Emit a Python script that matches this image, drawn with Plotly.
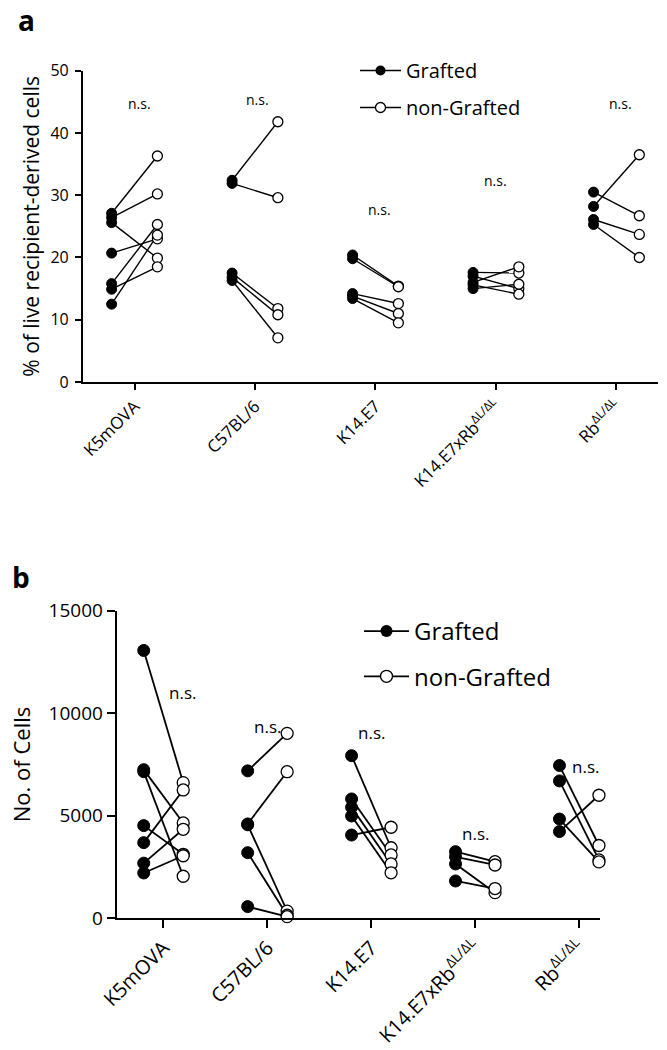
import plotly.graph_objects as go

# Mouse strains on the x axis
categories = ["K5mOVA", "C57BL/6", "K14.E7",
              "K14.E7xRb<sup>ΔL/ΔL</sup>", "Rb<sup>ΔL/ΔL</sup>"]

# Panel a: % of live recipient-derived cells (paired per mouse)
pct_grafted = [
    [27.1, 26.4, 25.6, 20.7, 15.8, 14.9, 12.5],
    [32.4, 31.9, 17.5, 16.8, 16.3],
    [20.4, 19.8, 14.2, 13.8, 13.4],
    [17.6, 17.0, 16.0, 15.6, 15.0],
    [30.5, 28.2, 26.1, 25.3],
]
pct_nongrafted = [
    [36.3, 30.2, 19.9, 23.0, 25.3, 18.5, 23.6],
    [41.8, 29.6, 11.8, 10.8, 7.1],
    [15.4, 15.3, 12.6, 11.0, 9.5],
    [17.5, 15.0, 18.5, 14.1, 15.7],
    [26.7, 36.5, 23.7, 20.0],
]

# Panel b: number of cells (paired per mouse)
cells_grafted = [
    [13060, 7250, 7150, 4520, 3690, 2690, 2210],
    [7190, 4600, 4560, 3200, 570],
    [7930, 5820, 5410, 4990, 4060],
    [3250, 3000, 2650, 1820],
    [7450, 6700, 4840, 4230],
]
cells_nongrafted = [
    [6615, 4650, 2050, 3120, 6260, 4340, 3050],
    [9020, 7150, 350, 150, 80],
    [3440, 3090, 2650, 2220, 4440],
    [2760, 2600, 1250, 1450],
    [3550, 2850, 2750, 6000],
]

# Significance labels
ns_text = ["n.s."] * 5
ns_pct_y = [44.7, 45.4, 27.7, 32.4, 44.7]
ns_pct_dx = [0.04, 0.02, 0.03, 0.0, 0.03]
ns_cells_y = [10990, 9350, 9040, 4150, 7400]
ns_cells_dx = [0.18, 0.0, 0.0, 0.0, 0.06]

FONT = "Open Sans"
OFF = 0.19
W, H = 667, 1050


def paired(grafted, nongrafted):
    gx, gy, nx, ny, lx, ly = [], [], [], [], [], []
    for i, (gs, ns) in enumerate(zip(grafted, nongrafted)):
        for g, n in zip(gs, ns):
            gx.append(i - OFF); gy.append(g)
            nx.append(i + OFF); ny.append(n)
            lx += [i - OFF, i + OFF, None]
            ly += [g, n, None]
    return gx, gy, nx, ny, lx, ly


fig = go.Figure()


def add_panel(grafted, nongrafted, xa, ya, legend, msize, lw):
    gx, gy, nx, ny, lx, ly = paired(grafted, nongrafted)
    fig.add_trace(go.Scatter(x=lx, y=ly, mode="lines", xaxis=xa, yaxis=ya,
                             line=dict(color="black", width=lw),
                             showlegend=False, hoverinfo="skip", cliponaxis=False))
    fig.add_trace(go.Scatter(x=gx, y=gy, mode="markers", xaxis=xa, yaxis=ya,
                             marker=dict(size=msize, color="black",
                                         line=dict(color="black", width=1)),
                             showlegend=False, cliponaxis=False))
    fig.add_trace(go.Scatter(x=nx, y=ny, mode="markers", xaxis=xa, yaxis=ya,
                             marker=dict(size=msize, color="white",
                                         line=dict(color="black", width=1.3)),
                             showlegend=False, cliponaxis=False))
    # legend entries
    fig.add_trace(go.Scatter(x=[None], y=[None], mode="lines+markers",
                             xaxis=xa, yaxis=ya, name="Grafted",
                             legend=legend, legendgroup=legend + "g",
                             line=dict(color="black", width=lw),
                             marker=dict(size=msize, color="black")))
    fig.add_trace(go.Scatter(x=[None], y=[None], mode="lines+markers",
                             xaxis=xa, yaxis=ya, name="non-Grafted",
                             legend=legend, legendgroup=legend + "n",
                             line=dict(color="black", width=lw),
                             marker=dict(size=msize, color="white",
                                         line=dict(color="black", width=1.3))))


add_panel(pct_grafted, pct_nongrafted, "x", "y", "legend", 10, 1.4)
add_panel(cells_grafted, cells_nongrafted, "x2", "y2", "legend2", 12, 1.8)

axis_common = dict(showline=True, linecolor="black", ticks="outside",
                   tickcolor="black", showgrid=False, zeroline=False,
                   fixedrange=True, automargin=False)

fig.update_layout(
    width=W, height=H,
    margin=dict(l=0, r=0, t=0, b=0),
    paper_bgcolor="white", plot_bgcolor="white",
    font=dict(family=FONT, color="black"),
    xaxis=dict(domain=[82.7 / W, 658 / W], range=[-0.43, 4.345], anchor="y",
               tickvals=list(range(5)), ticktext=categories, tickangle=-45,
               linewidth=1.5, tickwidth=1.5, ticklen=6,
               tickfont=dict(size=17), **axis_common),
    yaxis=dict(domain=[1 - 382 / H, 1 - 70.7 / H], range=[0, 50], dtick=10,
               anchor="x", linewidth=1.5, tickwidth=1.5, ticklen=6,
               tickfont=dict(size=16), ticklabelstandoff=3,
               title=dict(text="% of live recipient-derived cells",
                          font=dict(size=21), standoff=5),
               **axis_common),
    xaxis2=dict(domain=[116.7 / W, 600 / W], range=[-0.45, 4.2], anchor="y2",
                tickvals=list(range(5)), ticktext=categories, tickangle=-45,
                linewidth=2, tickwidth=2, ticklen=8,
                tickfont=dict(size=20), **axis_common),
    yaxis2=dict(domain=[1 - 918.3 / H, 1 - 610.7 / H], range=[0, 15000],
                dtick=5000, tickformat="d", anchor="x2", linewidth=2,
                tickwidth=2, ticklen=8, tickfont=dict(size=19),
                title=dict(text="No. of Cells", font=dict(size=22), standoff=12),
                **axis_common),
    legend=dict(x=355 / W, y=1 - 51 / H, xanchor="left", yanchor="top",
                font=dict(size=20), bgcolor="rgba(0,0,0,0)",
                traceorder="grouped", tracegroupgap=8, itemwidth=41),
    legend2=dict(x=359 / W, y=1 - 609 / H, xanchor="left", yanchor="top",
                 font=dict(size=24), bgcolor="rgba(0,0,0,0)",
                 traceorder="grouped", tracegroupgap=11, itemwidth=45),
)

annotations = [
    dict(text="<b>a</b>", x=16 / W, y=1 - 20 / H, xref="paper", yref="paper",
         xanchor="left", yanchor="middle", showarrow=False, font=dict(size=28)),
    dict(text="<b>b</b>", x=10 / W, y=1 - 577 / H, xref="paper", yref="paper",
         xanchor="left", yanchor="middle", showarrow=False, font=dict(size=28)),
]
for i, t in enumerate(ns_text):
    annotations.append(dict(text=t, x=i + ns_pct_dx[i], y=ns_pct_y[i],
                            xref="x", yref="y", showarrow=False,
                            font=dict(size=14)))
    annotations.append(dict(text=t, x=i + ns_cells_dx[i], y=ns_cells_y[i],
                            xref="x2", yref="y2", showarrow=False,
                            font=dict(size=17)))
fig.update_layout(annotations=annotations)

fig.write_html("out.html")
